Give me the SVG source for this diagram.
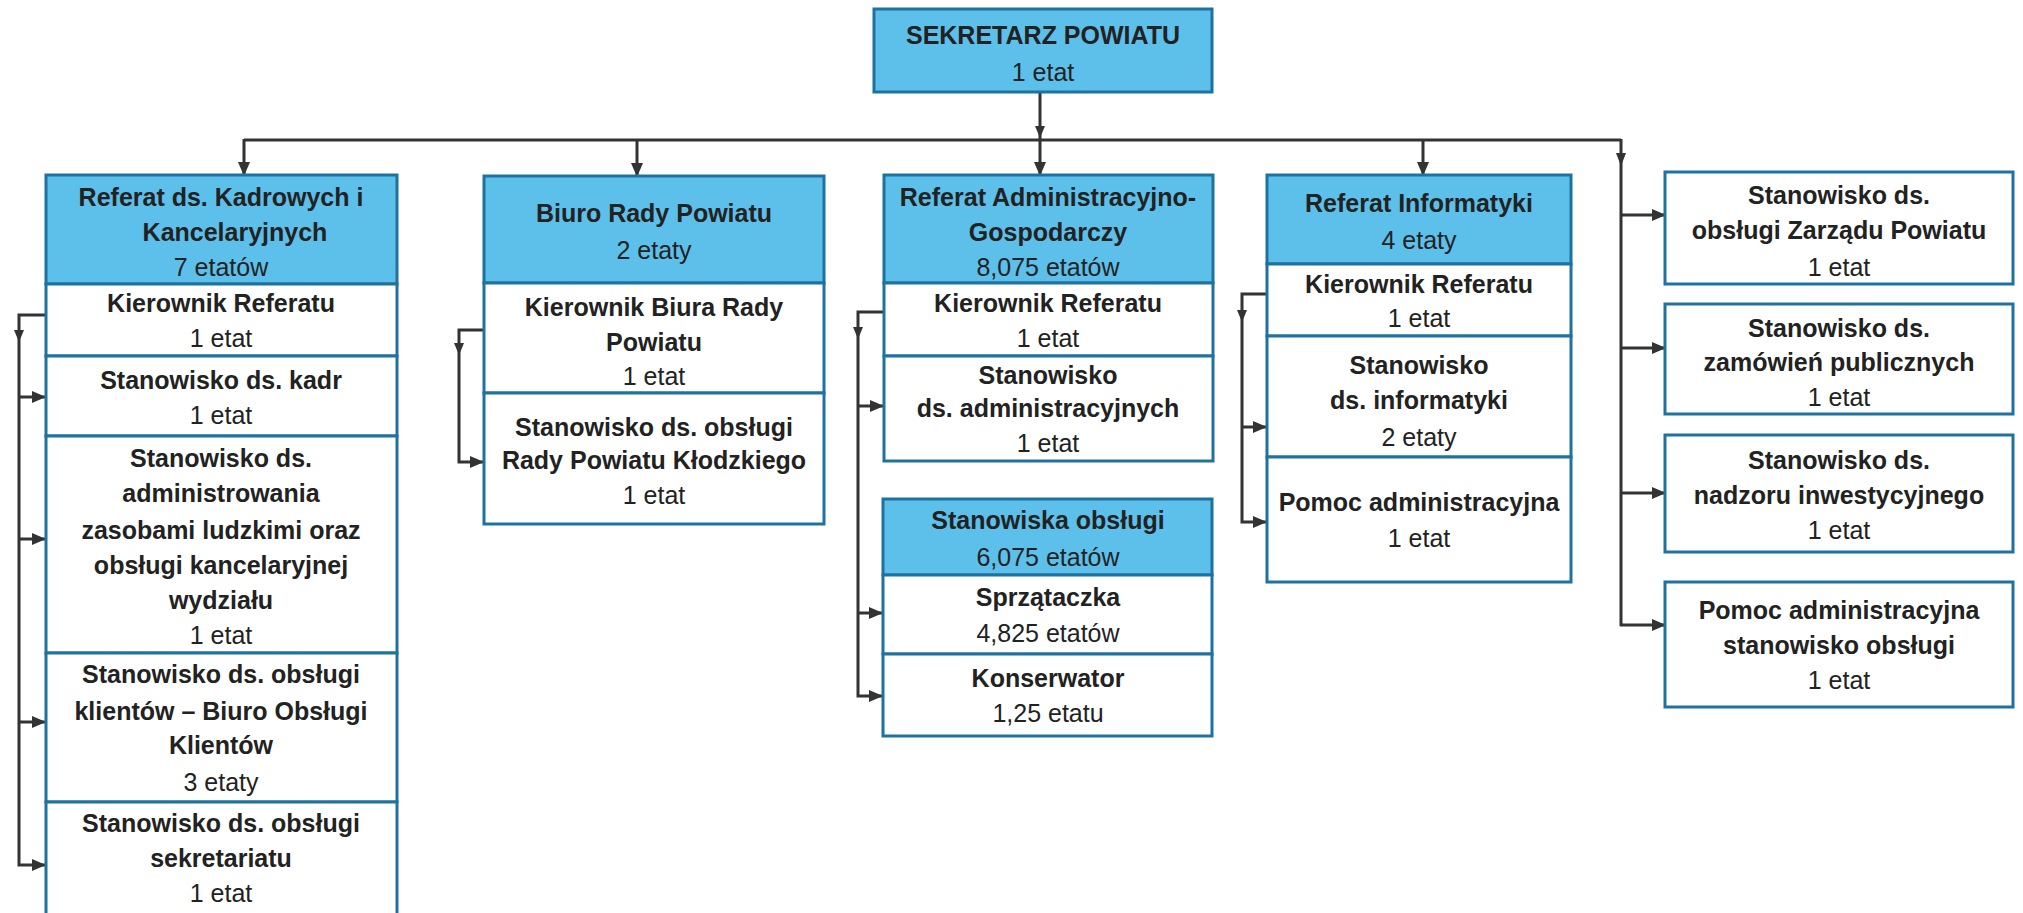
<svg xmlns="http://www.w3.org/2000/svg" width="2023" height="913" viewBox="0 0 2023 913">
<style>
  .box { fill: #ffffff; stroke: #1d72a0; stroke-width: 3; }
  .hdr { fill: #5cc0eb; stroke: #1d72a0; stroke-width: 3; }
  text { font-family: "Liberation Sans", Arial, sans-serif; font-size: 25px; fill: #222; text-anchor: middle; }
  .b { font-weight: bold; }
  .conn { fill: none; stroke: #333; stroke-width: 3; }
  .mid { fill: #333; }
</style>
<defs>
  <marker id="arr" markerUnits="userSpaceOnUse" markerWidth="14" markerHeight="12" refX="13" refY="6" orient="auto">
    <path d="M0,0 L14,6 L0,12 Z" fill="#333"/>
  </marker>
</defs>
<rect width="2023" height="913" fill="#ffffff"/>

<g id="connectors">
  <line class="conn" x1="1040" y1="92" x2="1040" y2="175" marker-end="url(#arr)"/>
  <polygon class="mid" points="1035,126 1045,126 1040,138"/>
  <line class="conn" x1="244" y1="140" x2="1621" y2="140"/>
  <line class="conn" x1="244" y1="139" x2="244" y2="175" marker-end="url(#arr)"/>
  <line class="conn" x1="637" y1="139" x2="637" y2="176" marker-end="url(#arr)"/>
  <line class="conn" x1="1423" y1="139" x2="1423" y2="175" marker-end="url(#arr)"/>
  <line class="conn" x1="1621" y1="139" x2="1621" y2="626"/>
  <polygon class="mid" points="1616,153 1626,153 1621,166"/>
  <line class="conn" x1="1621" y1="215" x2="1665" y2="215" marker-end="url(#arr)"/>
  <line class="conn" x1="1621" y1="348" x2="1665" y2="348" marker-end="url(#arr)"/>
  <line class="conn" x1="1621" y1="493" x2="1665" y2="493" marker-end="url(#arr)"/>
  <line class="conn" x1="1620" y1="625" x2="1665" y2="625" marker-end="url(#arr)"/>

  <path class="conn" d="M46,315 H19 V865 H45" marker-end="url(#arr)"/>
  <polygon class="mid" points="14,330 24,330 19,342"/>
  <line class="conn" x1="19" y1="397" x2="45" y2="397" marker-end="url(#arr)"/>
  <line class="conn" x1="19" y1="539" x2="45" y2="539" marker-end="url(#arr)"/>
  <line class="conn" x1="19" y1="722" x2="45" y2="722" marker-end="url(#arr)"/>

  <path class="conn" d="M484,330 H459 V462 H483" marker-end="url(#arr)"/>
  <polygon class="mid" points="454,343 464,343 459,355"/>

  <path class="conn" d="M884,312 H858 V696 H882" marker-end="url(#arr)"/>
  <polygon class="mid" points="853,327 863,327 858,339"/>
  <line class="conn" x1="858" y1="406" x2="883" y2="406" marker-end="url(#arr)"/>
  <line class="conn" x1="858" y1="613" x2="882" y2="613" marker-end="url(#arr)"/>

  <path class="conn" d="M1267,294 H1242 V522 H1266" marker-end="url(#arr)"/>
  <polygon class="mid" points="1237,310 1247,310 1242,322"/>
  <line class="conn" x1="1242" y1="427" x2="1266" y2="427" marker-end="url(#arr)"/>
</g>

<g id="sekretarz">
  <rect class="hdr" x="874" y="9" width="338" height="83"/>
  <text class="b" x="1043" y="44">SEKRETARZ POWIATU</text>
  <text x="1043" y="81">1 etat</text>
</g>

<g id="referat-kadrowych">
  <rect class="hdr" x="46" y="175" width="351" height="109"/>
  <text class="b" x="221" y="206">Referat ds. Kadrowych i</text>
  <text class="b" x="235" y="241">Kancelaryjnych</text>
  <text x="221" y="276">7 etatów</text>
  <rect class="box" x="46" y="284" width="351" height="72"/>
  <text class="b" x="221" y="312">Kierownik Referatu</text>
  <text x="221" y="347">1 etat</text>
  <rect class="box" x="46" y="356" width="351" height="80"/>
  <text class="b" x="221" y="389">Stanowisko ds. kadr</text>
  <text x="221" y="424">1 etat</text>
  <rect class="box" x="46" y="436" width="351" height="217"/>
  <text class="b" x="221" y="467">Stanowisko ds.</text>
  <text class="b" x="221" y="502">administrowania</text>
  <text class="b" x="221" y="539">zasobami ludzkimi oraz</text>
  <text class="b" x="221" y="574">obsługi kancelaryjnej</text>
  <text class="b" x="221" y="609">wydziału</text>
  <text x="221" y="644">1 etat</text>
  <rect class="box" x="46" y="653" width="351" height="149"/>
  <text class="b" x="221" y="683">Stanowisko ds. obsługi</text>
  <text class="b" x="221" y="720">klientów – Biuro Obsługi</text>
  <text class="b" x="221" y="754">Klientów</text>
  <text x="221" y="791">3 etaty</text>
  <rect class="box" x="46" y="802" width="351" height="120"/>
  <text class="b" x="221" y="832">Stanowisko ds. obsługi</text>
  <text class="b" x="221" y="867">sekretariatu</text>
  <text x="221" y="902">1 etat</text>
</g>

<g id="biuro-rady">
  <rect class="hdr" x="484" y="176" width="340" height="107"/>
  <text class="b" x="654" y="222">Biuro Rady Powiatu</text>
  <text x="654" y="259">2 etaty</text>
  <rect class="box" x="484" y="283" width="340" height="110"/>
  <text class="b" x="654" y="316">Kierownik Biura Rady</text>
  <text class="b" x="654" y="351">Powiatu</text>
  <text x="654" y="385">1 etat</text>
  <rect class="box" x="484" y="393" width="340" height="131"/>
  <text class="b" x="654" y="436">Stanowisko ds. obsługi</text>
  <text class="b" x="654" y="469">Rady Powiatu Kłodzkiego</text>
  <text x="654" y="504">1 etat</text>
</g>

<g id="referat-admin">
  <rect class="hdr" x="884" y="175" width="329" height="108"/>
  <text class="b" x="1048" y="206">Referat Administracyjno-</text>
  <text class="b" x="1048" y="241">Gospodarczy</text>
  <text x="1048" y="276">8,075 etatów</text>
  <rect class="box" x="884" y="283" width="329" height="73"/>
  <text class="b" x="1048" y="312">Kierownik Referatu</text>
  <text x="1048" y="347">1 etat</text>
  <rect class="box" x="884" y="356" width="329" height="105"/>
  <text class="b" x="1048" y="384">Stanowisko</text>
  <text class="b" x="1048" y="417">ds. administracyjnych</text>
  <text x="1048" y="452">1 etat</text>
</g>

<g id="stanowiska-obslugi">
  <rect class="hdr" x="883" y="499" width="329" height="76"/>
  <text class="b" x="1048" y="529">Stanowiska obsługi</text>
  <text x="1048" y="566">6,075 etatów</text>
  <rect class="box" x="883" y="575" width="329" height="79"/>
  <text class="b" x="1048" y="606">Sprzątaczka</text>
  <text x="1048" y="642">4,825 etatów</text>
  <rect class="box" x="883" y="654" width="329" height="82"/>
  <text class="b" x="1048" y="687">Konserwator</text>
  <text x="1048" y="722">1,25 etatu</text>
</g>

<g id="referat-informatyki">
  <rect class="hdr" x="1267" y="175" width="304" height="89"/>
  <text class="b" x="1419" y="212">Referat Informatyki</text>
  <text x="1419" y="249">4 etaty</text>
  <rect class="box" x="1267" y="264" width="304" height="72"/>
  <text class="b" x="1419" y="293">Kierownik Referatu</text>
  <text x="1419" y="327">1 etat</text>
  <rect class="box" x="1267" y="336" width="304" height="121"/>
  <text class="b" x="1419" y="374">Stanowisko</text>
  <text class="b" x="1419" y="409">ds. informatyki</text>
  <text x="1419" y="446">2 etaty</text>
  <rect class="box" x="1267" y="457" width="304" height="125"/>
  <text class="b" x="1419" y="511">Pomoc administracyjna</text>
  <text x="1419" y="547">1 etat</text>
</g>

<g id="stanowisko-zarzadu">
  <rect class="box" x="1665" y="172" width="348" height="112"/>
  <text class="b" x="1839" y="204">Stanowisko ds.</text>
  <text class="b" x="1839" y="239">obsługi Zarządu Powiatu</text>
  <text x="1839" y="276">1 etat</text>
</g>

<g id="stanowisko-zamowien">
  <rect class="box" x="1665" y="304" width="348" height="110"/>
  <text class="b" x="1839" y="337">Stanowisko ds.</text>
  <text class="b" x="1839" y="371">zamówień publicznych</text>
  <text x="1839" y="406">1 etat</text>
</g>

<g id="stanowisko-nadzoru">
  <rect class="box" x="1665" y="435" width="348" height="117"/>
  <text class="b" x="1839" y="469">Stanowisko ds.</text>
  <text class="b" x="1839" y="504">nadzoru inwestycyjnego</text>
  <text x="1839" y="539">1 etat</text>
</g>

<g id="pomoc-administracyjna">
  <rect class="box" x="1665" y="582" width="348" height="125"/>
  <text class="b" x="1839" y="619">Pomoc administracyjna</text>
  <text class="b" x="1839" y="654">stanowisko obsługi</text>
  <text x="1839" y="689">1 etat</text>
</g>
</svg>
